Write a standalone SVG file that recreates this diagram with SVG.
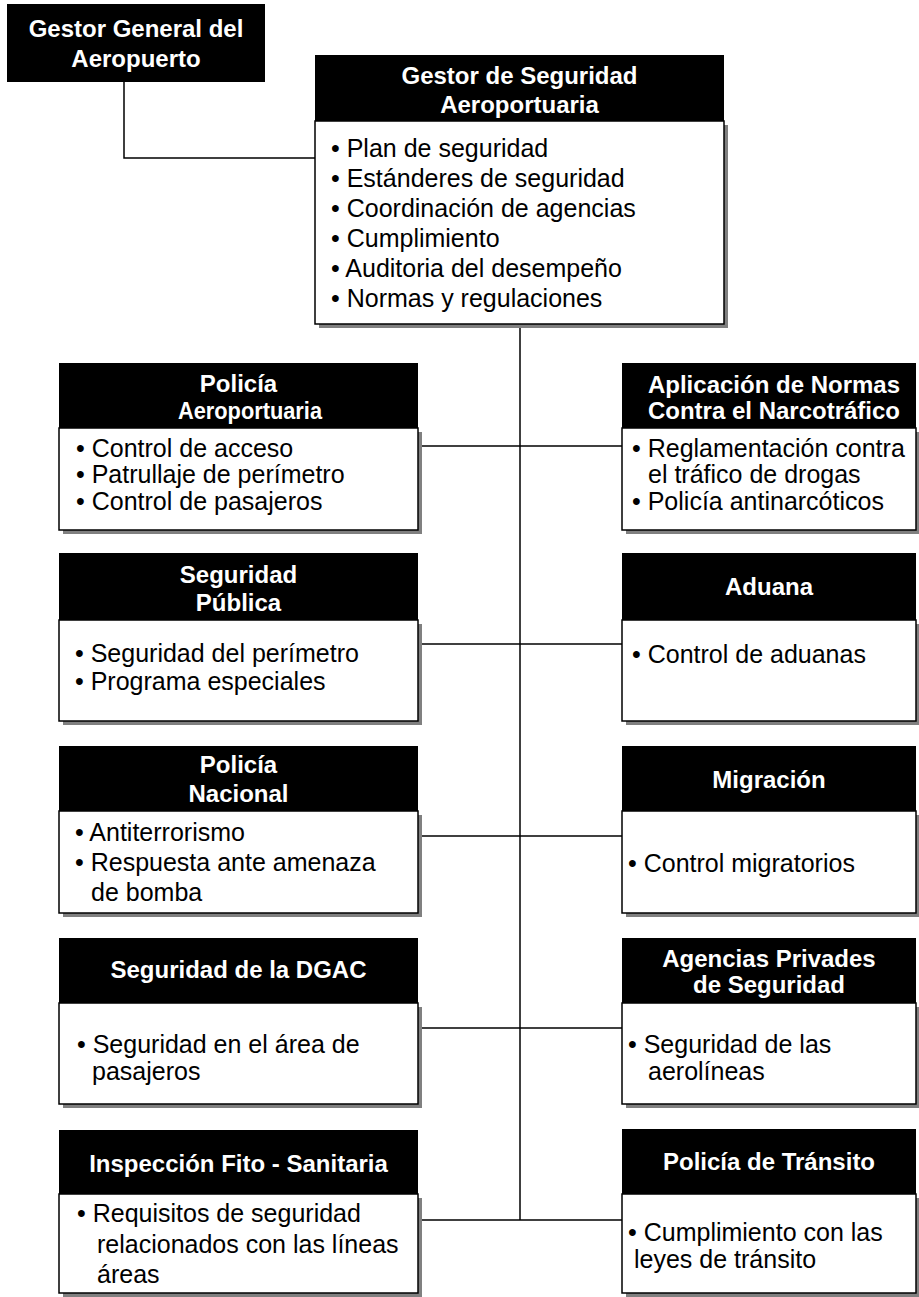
<svg xmlns="http://www.w3.org/2000/svg" width="919" height="1297" viewBox="0 0 919 1297">
<style>
.hd{fill:#000}
.sh{fill:#808080}
.bd{fill:#fff;stroke:#000;stroke-width:1.5}
.ht{font-family:"Liberation Sans",Arial,sans-serif;font-weight:bold;font-size:24px;fill:#fff;text-anchor:middle}
.bt{font-family:"Liberation Sans",Arial,sans-serif;font-size:25px;fill:#000}
.br{font-family:"Liberation Sans",Arial,sans-serif;font-size:25px;fill:#000}
.cn{fill:none;stroke:#000;stroke-width:1.5}
</style>
<rect width="919" height="1297" fill="#fff"/>
<g id="connectors">
<path class="cn" d="M124,82 V158 H315"/>
<path class="cn" d="M520,324 V1220"/>
<path class="cn" d="M418,446 H622"/>
<path class="cn" d="M418,644 H622"/>
<path class="cn" d="M418,836 H622"/>
<path class="cn" d="M418,1028 H622"/>
<path class="cn" d="M418,1220 H622"/>
</g>
<g id="gestor-general">
<rect class="hd" x="7" y="4" width="258" height="78"/>
<text class="ht" x="136" y="37" font-size="25">Gestor General del</text>
<text class="ht" x="136" y="67" font-size="25">Aeropuerto</text>
</g>
<g id="gestor-seguridad">
<rect class="hd" x="315" y="55" width="409" height="66"/>
<rect class="sh" x="319" y="125" width="409" height="203"/>
<rect class="bd" x="315" y="121" width="409" height="203"/>
<text class="ht" x="519.5" y="84" font-size="25">Gestor de Seguridad</text>
<text class="ht" x="519.5" y="113" font-size="25">Aeroportuaria</text>
<text class="bt" x="331" y="157">• Plan de seguridad</text>
<text class="bt" x="331" y="187">• Estánderes de seguridad</text>
<text class="bt" x="331" y="217">• Coordinación de agencias</text>
<text class="bt" x="331" y="247">• Cumplimiento</text>
<text class="bt" x="331" y="277">• Auditoria del desempeño</text>
<text class="bt" x="331" y="307">• Normas y regulaciones</text>
</g>
<g id="policia-aeroportuaria">
<rect class="hd" x="59" y="363" width="359" height="65"/>
<rect class="sh" x="63" y="432" width="359" height="102"/>
<rect class="bd" x="59" y="428" width="359" height="102"/>
<text class="ht" x="238.5" y="392">Policía</text>
<text class="ht" x="250" y="419" textLength="144" lengthAdjust="spacingAndGlyphs" text-anchor="middle">Aeroportuaria</text>
<text class="bt" x="76" y="457">• Control de acceso</text>
<text class="bt" x="76" y="483">• Patrullaje de perímetro</text>
<text class="bt" x="76" y="510">• Control de pasajeros</text>
</g>
<g id="narcotrafico">
<rect class="hd" x="622" y="363" width="294" height="65"/>
<rect class="sh" x="626" y="432" width="294" height="102"/>
<rect class="bd" x="622" y="428" width="294" height="102"/>
<text class="ht" x="774" y="393" font-size="26.5">Aplicación de Normas</text>
<text class="ht" x="774" y="419" font-size="26.5">Contra el Narcotráfico</text>
<text class="br" x="632" y="457">• Reglamentación contra</text>
<text class="br" x="648" y="483">el tráfico de drogas</text>
<text class="br" x="632" y="510">• Policía antinarcóticos</text>
</g>
<g id="seguridad-publica">
<rect class="hd" x="59" y="553" width="359" height="67"/>
<rect class="sh" x="63" y="624" width="359" height="101"/>
<rect class="bd" x="59" y="620" width="359" height="101"/>
<text class="ht" x="238.5" y="583" font-size="25">Seguridad</text>
<text class="ht" x="238.5" y="611" font-size="25">Pública</text>
<text class="bt" x="75" y="662">• Seguridad del perímetro</text>
<text class="bt" x="75" y="690">• Programa especiales</text>
</g>
<g id="aduana">
<rect class="hd" x="622" y="553" width="294" height="67"/>
<rect class="sh" x="626" y="624" width="294" height="101"/>
<rect class="bd" x="622" y="620" width="294" height="101"/>
<text class="ht" x="769" y="595" font-size="25">Aduana</text>
<text class="bt" x="632" y="663">• Control de aduanas</text>
</g>
<g id="policia-nacional">
<rect class="hd" x="59" y="746" width="359" height="65"/>
<rect class="sh" x="63" y="815" width="359" height="102"/>
<rect class="bd" x="59" y="811" width="359" height="102"/>
<text class="ht" x="238.5" y="773" font-size="25">Policía</text>
<text class="ht" x="238.5" y="802" font-size="25">Nacional</text>
<text class="bt" x="75" y="841">• Antiterrorismo</text>
<text class="bt" x="75" y="871">• Respuesta ante amenaza</text>
<text class="bt" x="91" y="901">de bomba</text>
</g>
<g id="migracion">
<rect class="hd" x="622" y="746" width="294" height="65"/>
<rect class="sh" x="626" y="815" width="294" height="102"/>
<rect class="bd" x="622" y="811" width="294" height="102"/>
<text class="ht" x="769" y="788" font-size="26">Migración</text>
<text class="br" x="628" y="872">• Control migratorios</text>
</g>
<g id="dgac">
<rect class="hd" x="59" y="938" width="359" height="65"/>
<rect class="sh" x="63" y="1007" width="359" height="101"/>
<rect class="bd" x="59" y="1003" width="359" height="101"/>
<text class="ht" x="238.5" y="978" font-size="25">Seguridad de la DGAC</text>
<text class="bt" x="77" y="1053">• Seguridad en el área de</text>
<text class="bt" x="92" y="1080">pasajeros</text>
</g>
<g id="agencias-privadas">
<rect class="hd" x="622" y="938" width="294" height="65"/>
<rect class="sh" x="626" y="1007" width="294" height="101"/>
<rect class="bd" x="622" y="1003" width="294" height="101"/>
<text class="ht" x="769" y="967" font-size="27">Agencias Privades</text>
<text class="ht" x="769" y="993" font-size="27">de Seguridad</text>
<text class="br" x="628" y="1053">• Seguridad de las</text>
<text class="br" x="648" y="1080">aerolíneas</text>
</g>
<g id="fito-sanitaria">
<rect class="hd" x="59" y="1130" width="359" height="64"/>
<rect class="sh" x="63" y="1198" width="359" height="99"/>
<rect class="bd" x="59" y="1194" width="359" height="99"/>
<text class="ht" x="238.5" y="1172" font-size="25.5">Inspección Fito - Sanitaria</text>
<text class="bt" x="77" y="1222">• Requisitos de seguridad</text>
<text class="bt" x="97" y="1253">relacionados con las líneas</text>
<text class="bt" x="97" y="1283">áreas</text>
</g>
<g id="policia-transito">
<rect class="hd" x="622" y="1129" width="294" height="65"/>
<rect class="sh" x="626" y="1198" width="294" height="99"/>
<rect class="bd" x="622" y="1194" width="294" height="99"/>
<text class="ht" x="769" y="1170" font-size="25">Policía de Tránsito</text>
<text class="br" x="628" y="1241">• Cumplimiento con las</text>
<text class="br" x="634" y="1268">leyes de tránsito</text>
</g>
</svg>
